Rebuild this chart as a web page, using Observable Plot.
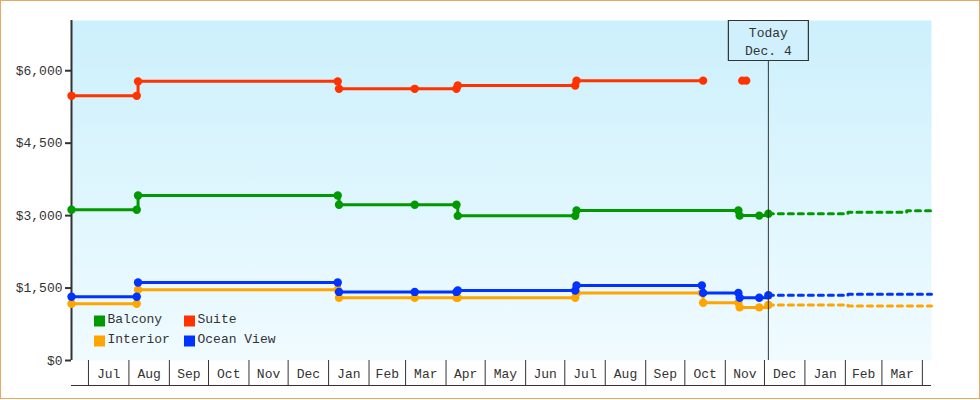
<!DOCTYPE html>
<html>
<head>
<meta charset="utf-8">
<script src="https://cdn.jsdelivr.net/npm/d3@7"></script>
<script src="https://cdn.jsdelivr.net/npm/@observablehq/plot@0.6"></script>
<style>
  html, body { margin: 0; padding: 0; background: #fff; }
  #wrap { position: relative; width: 980px; height: 400px; overflow: hidden; }
  #border { position: absolute; left: 0; top: 0; width: 980px; height: 399px; box-sizing: border-box; border: 1px solid #e8a862; pointer-events: none; }
  #chart svg { display: block; }
</style>
</head>
<body>
<div id="wrap"><div id="chart"></div><div id="border"></div></div>
<script>
// ---- data ----
const seriesNames = ["Balcony", "Suite", "Interior", "Ocean View"];
const seriesColors = ["#009900", "#ff3300", "#ffa500", "#0033ff"];

const balcony = [["2013-06-18", 3120], ["2013-08-07", 3120], ["2013-08-08", 3415], ["2014-01-08", 3415], ["2014-01-09", 3225], ["2014-03-08", 3225], ["2014-04-09", 3225], ["2014-04-10", 2995], ["2014-07-09", 2995], ["2014-07-10", 3105], ["2014-11-11", 3105], ["2014-11-12", 3000], ["2014-11-27", 3000], ["2014-12-04", 3040]];
const suite = [["2013-06-18", 5480], ["2013-08-07", 5480], ["2013-08-08", 5780], ["2014-01-08", 5780], ["2014-01-09", 5625], ["2014-03-08", 5625], ["2014-04-09", 5625], ["2014-04-10", 5695], ["2014-07-09", 5695], ["2014-07-10", 5795], ["2014-10-15", 5795], ["2014-10-16", null], ["2014-11-14", 5795], ["2014-11-17", 5795]];
const interior = [["2013-06-18", 1175], ["2013-08-07", 1175], ["2013-08-08", 1465], ["2014-01-08", 1465], ["2014-01-09", 1300], ["2014-03-08", 1300], ["2014-04-09", 1300], ["2014-04-10", 1300], ["2014-07-09", 1300], ["2014-07-10", 1400], ["2014-10-14", 1400], ["2014-10-15", 1195], ["2014-11-11", 1195], ["2014-11-12", 1100], ["2014-11-27", 1100], ["2014-12-04", 1150]];
const oceanView = [["2013-06-18", 1320], ["2013-08-07", 1320], ["2013-08-08", 1615], ["2014-01-08", 1615], ["2014-01-09", 1420], ["2014-03-08", 1420], ["2014-04-09", 1420], ["2014-04-10", 1450], ["2014-07-09", 1450], ["2014-07-10", 1555], ["2014-10-14", 1555], ["2014-10-15", 1400], ["2014-11-11", 1400], ["2014-11-12", 1300], ["2014-11-27", 1300], ["2014-12-04", 1350]];

const balconyForecast = [["2014-12-04", 3040], ["2015-02-03", 3070], ["2015-03-20", 3100], ["2015-04-08", 3100]];
const interiorForecast = [["2014-12-04", 1150], ["2015-02-03", 1130], ["2015-04-08", 1130]];
const oceanViewForecast = [["2014-12-04", 1350], ["2015-02-03", 1370], ["2015-04-08", 1370]];

const xDomain = ["2013-06-18", "2015-04-08"];
const monthStarts = ["2013-07-01", "2013-08-01", "2013-09-01", "2013-10-01", "2013-11-01", "2013-12-01", "2014-01-01", "2014-02-01", "2014-03-01", "2014-04-01", "2014-05-01", "2014-06-01", "2014-07-01", "2014-08-01", "2014-09-01", "2014-10-01", "2014-11-01", "2014-12-01", "2015-01-01", "2015-02-01", "2015-03-01", "2015-04-01"];
const monthLabels = ["Jul", "Aug", "Sep", "Oct", "Nov", "Dec", "Jan", "Feb", "Mar", "Apr", "May", "Jun", "Jul", "Aug", "Sep", "Oct", "Nov", "Dec", "Jan", "Feb", "Mar"];
const yTicks = [0, 1500, 3000, 4500, 6000];
const yMax = 7040;
const todayDate = "2014-12-04";
const todayLabel = "Today\nDec. 4";

// ---- build tables ----
const parse = s => new Date(s + "T00:00:00Z");
const observed = [[balcony, 0], [suite, 1], [interior, 2], [oceanView, 3]]
  .flatMap(([arr, i]) => arr.map(([d, v]) => ({series: seriesNames[i], date: parse(d), price: v})));
const forecast = [[balconyForecast, 0], [interiorForecast, 2], [oceanViewForecast, 3]]
  .flatMap(([arr, i]) => arr.map(([d, v]) => ({series: seriesNames[i], date: parse(d), price: v})));
const starts = monthStarts.map(parse);
const monthMids = monthLabels.map((label, i) => ({label, mid: new Date((+starts[i] + +starts[i + 1]) / 2)}));
const today = parse(todayDate);

const ink = "#333";
const legendMarks = seriesNames.flatMap((name, i) => {
  const col = i % 2, row = Math.floor(i / 2);
  const dx = 28 + col * 90, dy = -39.5 + row * 20;
  return [
    Plot.dot([name], {frameAnchor: "bottom-left", dx, dy, symbol: "square", r: 6.2, fill: seriesColors[i]}),
    Plot.text([name], {text: d => d, frameAnchor: "bottom-left", dx: dx + 8, dy: dy + 2, textAnchor: "start", fill: ink, fontSize: 13})
  ];
});

const boxSymbol = {draw(ctx) { ctx.rect(-40, -20, 80, 40); }};

const chart = Plot.plot({
  width: 980,
  height: 400,
  marginLeft: 71,
  marginRight: 49,
  marginTop: 20,
  marginBottom: 40,
  style: {fontFamily: "'Liberation Mono', 'DejaVu Sans Mono', monospace", fontSize: "13px", color: ink, background: "transparent"},
  x: {type: "utc", domain: xDomain.map(parse), axis: null},
  y: {domain: [0, yMax], axis: null},
  color: {domain: seriesNames, range: seriesColors},
  marks: [
    Plot.frame({fill: "url(#bgGrad)", stroke: "none"}),
    Plot.axisX(starts, {tickSize: 25, tickFormat: () => "", stroke: ink, strokeWidth: 1, label: null}),
    Plot.text(monthMids, {x: "mid", text: "label", frameAnchor: "bottom", dy: 13, lineAnchor: "middle", fill: ink, fontSize: 13}),
    Plot.ruleY([0], {dy: 25, stroke: ink, strokeWidth: 1}),
    Plot.axisY({ticks: yTicks, tickFormat: d => "$" + d3.format(",")(d), tickSize: 6, tickPadding: 3, stroke: ink, strokeWidth: 2, fill: ink, fontSize: 13, label: null}),
    Plot.ruleX([parse(xDomain[0])], {stroke: ink, strokeWidth: 2}),
    Plot.line(forecast, {x: "date", y: "price", z: "series", stroke: "series", curve: "step-after", strokeWidth: 3, strokeDasharray: "5,5"}),
    Plot.line(observed, {x: "date", y: "price", z: "series", stroke: "series", curve: "step-after", strokeWidth: 3}),
    Plot.dot(observed, {x: "date", y: "price", fill: "series", r: 4.2}),
    ...legendMarks,
    Plot.ruleX([today], {stroke: ink, strokeWidth: 1}),
    Plot.dot([today], {x: d => d, frameAnchor: "top", dy: 20, symbol: boxSymbol, fill: "#cff0fc", stroke: ink, strokeWidth: 1.2}),
    Plot.text([today], {x: d => d, text: () => todayLabel, frameAnchor: "top", dy: 20, lineAnchor: "middle", lineHeight: 1.38, fill: ink, fontSize: 13})
  ]
});

// background gradient for the plot frame
const ns = "http://www.w3.org/2000/svg";
const defs = document.createElementNS(ns, "defs");
const grad = document.createElementNS(ns, "linearGradient");
grad.setAttribute("id", "bgGrad");
grad.setAttribute("x1", "0"); grad.setAttribute("y1", "0");
grad.setAttribute("x2", "0"); grad.setAttribute("y2", "1");
[["0", "#ccf0fc"], ["1", "#f0fbff"]].forEach(([o, c]) => {
  const s = document.createElementNS(ns, "stop");
  s.setAttribute("offset", o); s.setAttribute("stop-color", c);
  grad.appendChild(s);
});
defs.appendChild(grad);
chart.insertBefore(defs, chart.firstChild);
document.getElementById("chart").appendChild(chart);
</script>
</body>
</html>
